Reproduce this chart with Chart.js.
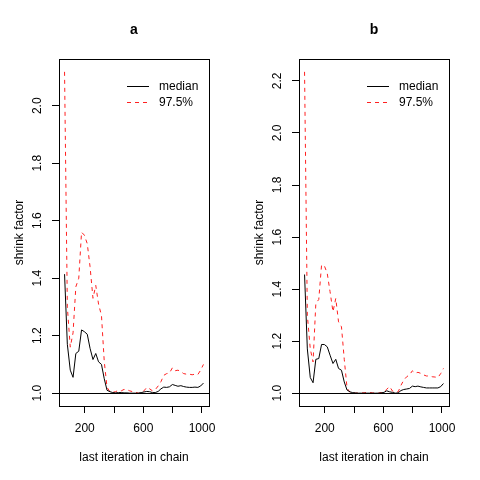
<!DOCTYPE html>
<html>
<head>
<meta charset="utf-8">
<script src="https://cdn.jsdelivr.net/npm/chart.js@4"></script>
<style>
  html, body { margin: 0; padding: 0; background: #fff; }
  #wrap { position: relative; width: 480px; height: 480px; }
  .panel { position: absolute; top: 0; width: 240px; height: 480px; }
</style>
</head>
<body>
<div id="wrap">
  <div class="panel" style="left:0"><canvas id="chartA" width="240" height="480"></canvas></div>
  <div class="panel" style="left:240px"><canvas id="chartB" width="240" height="480"></canvas></div>
</div>
<script>
const FONT = '"Liberation Sans", Arial, Helvetica, sans-serif';
const RED = '#FF2020';

// last iteration in chain (shared x values)
const iters = [62, 81, 101, 120, 139, 159, 178, 197, 217, 236,
  256, 275, 294, 314, 333, 352, 372, 391, 410, 430,
  449, 468, 488, 507, 527, 546, 565, 585, 604, 623,
  643, 662, 681, 701, 720, 739, 759, 778, 798, 817,
  836, 856, 875, 894, 914, 933, 952, 972, 991, 1010];

// panel a
const medianA = [1.414, 1.17, 1.08, 1.055, 1.138, 1.146, 1.22, 1.214, 1.205, 1.156,
  1.117, 1.138, 1.109, 1.10, 1.05, 1.01, 1.005, 1.002, 1.001, 1.002,
  1.002, 1.001, 1.001, 1.0, 1.0, 1.0, 1.0, 1.002, 1.004, 1.006,
  1.005, 1.002, 1.002, 1.006, 1.015, 1.021, 1.02, 1.022, 1.03, 1.027,
  1.024, 1.026, 1.023, 1.021, 1.02, 1.02, 1.021, 1.02, 1.025, 1.035];
const upperA = [2.118, 1.30, 1.16, 1.21, 1.37, 1.40, 1.56, 1.55, 1.52, 1.44,
  1.33, 1.375, 1.31, 1.27, 1.11, 1.02, 1.005, 1.003, 1.005, 1.01,
  1.008, 1.013, 1.012, 1.008, 1.005, 1.003, 1.0, 1.0, 1.008, 1.02,
  1.015, 1.008, 1.012, 1.025, 1.04, 1.062, 1.068, 1.07, 1.088, 1.078,
  1.08, 1.075, 1.068, 1.066, 1.066, 1.064, 1.066, 1.065, 1.08, 1.10];

// panel b
const medianB = [1.456, 1.17, 1.06, 1.04, 1.13, 1.133, 1.187, 1.187, 1.178, 1.146,
  1.114, 1.13, 1.095, 1.088, 1.043, 1.012, 1.005, 1.002, 1.001, 1.0,
  1.0, 1.0, 1.0, 1.0, 1.0, 1.0, 1.0, 1.001, 1.003, 1.009,
  1.005, 1.003, 1.0, 1.001, 1.01, 1.014, 1.016, 1.018, 1.027, 1.025,
  1.027, 1.024, 1.022, 1.02, 1.02, 1.02, 1.02, 1.02, 1.025, 1.037];
const upperB = [2.235, 1.30, 1.17, 1.12, 1.345, 1.36, 1.492, 1.49, 1.46, 1.39,
  1.313, 1.364, 1.274, 1.255, 1.13, 1.02, 1.003, 1.001, 1.0, 1.0,
  1.001, 1.001, 1.003, 1.002, 1.001, 1.0, 1.0, 1.002, 1.005, 1.015,
  1.025, 1.008, 1.005, 1.005, 1.03, 1.05, 1.063, 1.07, 1.086, 1.077,
  1.08, 1.076, 1.07, 1.066, 1.066, 1.063, 1.062, 1.06, 1.075, 1.095];

const xTicks = [200, 400, 600, 800, 1000];
const xTickLabels = ['200', '', '600', '', '1000'];
const yTicksA = [1.0, 1.2, 1.4, 1.6, 1.8, 2.0];
const yTicksB = [1.0, 1.2, 1.4, 1.6, 1.8, 2.0, 2.2];
const seriesNames = ['median', '97.5%'];
const panelTitles = ['a', 'b'];

Chart.defaults.font.family = FONT;
Chart.defaults.font.size = 12;
Chart.defaults.color = '#000';

// R style axis range: data range stretched 4% each side
function padRange(vals, lo) {
  const min = lo !== undefined ? lo : Math.min(...vals);
  const max = Math.max(...vals);
  const d = (max - min) * 0.04;
  return [min - d, max + d];
}

// box, abline(h=1), title and legend
const rFrame = {
  id: 'rFrame',
  afterDatasetsDraw(chart, args, opts) {
    const { ctx, chartArea: a } = chart;
    const y = chart.scales.y;
    ctx.save();
    ctx.strokeStyle = '#000';
    ctx.lineWidth = 1;
    const y1 = Math.round(y.getPixelForValue(1)) + 0.5;
    ctx.beginPath();
    ctx.moveTo(a.left, y1);
    ctx.lineTo(a.right, y1);
    ctx.stroke();
    ctx.strokeRect(a.left + 0.5, a.top + 0.5, a.right - a.left, a.bottom - a.top);

    ctx.fillStyle = '#000';
    ctx.font = 'bold 14px ' + FONT;
    ctx.textAlign = 'center';
    ctx.textBaseline = 'middle';
    ctx.fillText(opts.title, (a.left + a.right) / 2, 30);

    ctx.font = '12px ' + FONT;
    ctx.textAlign = 'left';
    chart.data.datasets.forEach((ds, i) => {
      const ly = Math.round(a.top + 27 + i * 15.5) + 0.5;
      ctx.strokeStyle = ds.borderColor;
      ctx.setLineDash(ds.borderDash || []);
      ctx.beginPath();
      ctx.moveTo(a.right - 82, ly);
      ctx.lineTo(a.right - 60, ly);
      ctx.stroke();
      ctx.setLineDash([]);
      ctx.fillText(ds.label, a.right - 50, ly);
    });
    ctx.restore();
  }
};

function makeChart(id, med, upp, yTicks, title) {
  const xr = padRange(iters);
  const yr = padRange(med.concat(upp), 1);
  return new Chart(document.getElementById(id), {
    type: 'line',
    data: {
      datasets: [
        {
          label: seriesNames[0],
          data: iters.map((x, i) => ({ x: x, y: med[i] })),
          borderColor: '#000', borderWidth: 1, pointRadius: 0, tension: 0
        },
        {
          label: seriesNames[1],
          data: iters.map((x, i) => ({ x: x, y: upp[i] })),
          borderColor: RED, borderWidth: 1, borderDash: [4, 4], pointRadius: 0, tension: 0
        }
      ]
    },
    options: {
      responsive: false,
      animation: false,
      devicePixelRatio: 1,
      layout: { padding: { top: 59, right: 31, left: 0, bottom: 0 } },
      plugins: {
        legend: { display: false },
        tooltip: { enabled: false },
        rFrame: { title: title }
      },
      scales: {
        x: {
          type: 'linear', min: xr[0], max: xr[1],
          afterFit: s => { s.height = 74; },
          afterBuildTicks: s => { s.ticks = xTicks.map(v => ({ value: v })); },
          ticks: {
            callback: (v, i) => xTickLabels[i],
            padding: 8, maxRotation: 0, autoSkip: false, color: '#000'
          },
          grid: { drawOnChartArea: false, tickLength: 7, color: '#000' },
          border: { display: false },
          title: {
            display: true, text: 'last iteration in chain', color: '#000',
            padding: { top: 0, bottom: 15 }
          }
        },
        y: {
          type: 'linear', min: yr[0], max: yr[1],
          afterFit: s => { s.width = 59; },
          afterBuildTicks: s => { s.ticks = yTicks.map(v => ({ value: v })); },
          ticks: {
            callback: v => v.toFixed(1),
            minRotation: 90, maxRotation: 90, crossAlign: 'center',
            padding: 6, autoSkip: false, color: '#000'
          },
          grid: { drawOnChartArea: false, tickLength: 7, color: '#000' },
          border: { display: false },
          title: {
            display: true, text: 'shrink factor', color: '#000',
            padding: { top: 12, bottom: 0 }
          }
        }
      }
    },
    plugins: [rFrame]
  });
}

makeChart('chartA', medianA, upperA, yTicksA, panelTitles[0]);
makeChart('chartB', medianB, upperB, yTicksB, panelTitles[1]);
</script>
</body>
</html>
